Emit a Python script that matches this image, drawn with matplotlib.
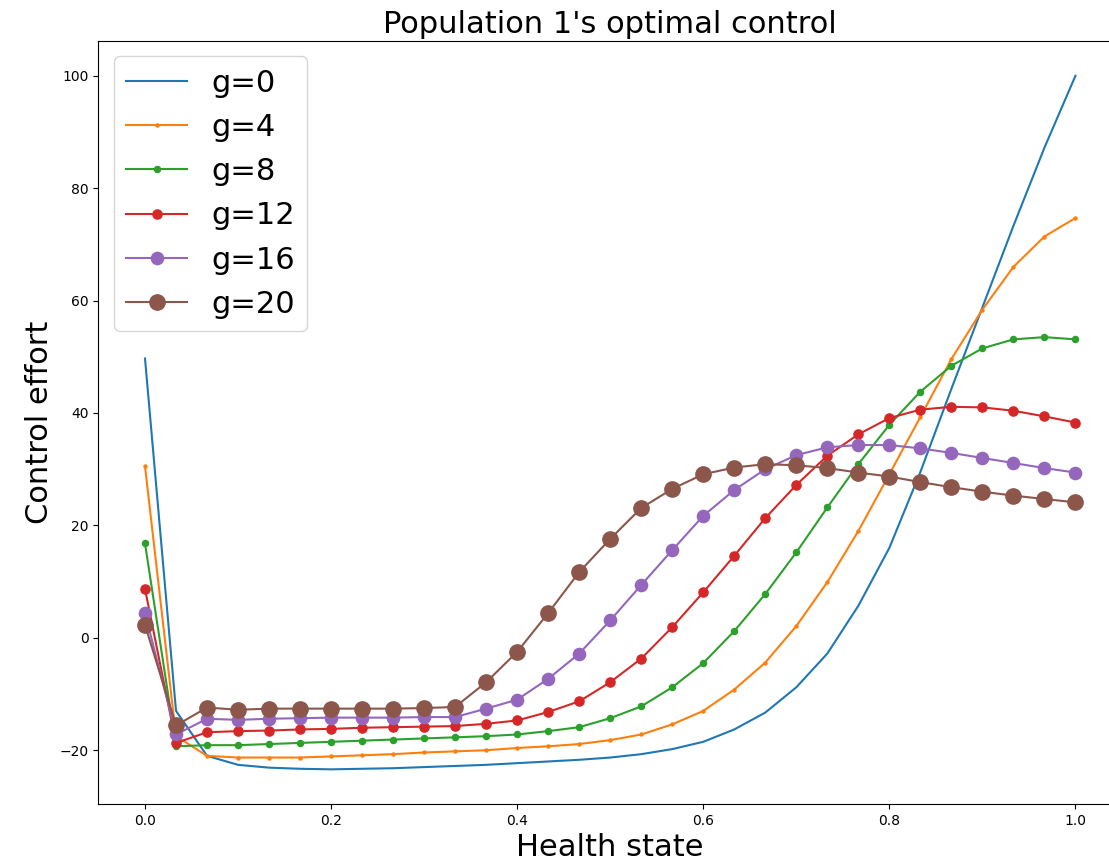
import numpy as np
import matplotlib
matplotlib.use("Agg")
import matplotlib.pyplot as plt

# Grid of health states (31 points between 0 and 1)
health = np.linspace(0, 1, 31)

u_g0 = [49.7, -13.0, -21.0, -22.6, -23.1, -23.3, -23.4, -23.3, -23.2, -23.0,
        -22.8, -22.6, -22.3, -22.0, -21.7, -21.3, -20.7, -19.8, -18.5, -16.3,
        -13.3, -8.8, -2.8, 5.7, 16.0, 29.5, 44.3, 58.8, 73.3, 87.2, 100.0]
u_g4 = [30.5, -17.5, -21.0, -21.3, -21.3, -21.3, -21.1, -20.9, -20.7, -20.4,
        -20.2, -20.0, -19.6, -19.3, -18.9, -18.2, -17.2, -15.4, -13.0, -9.2,
        -4.4, 2.1, 9.9, 19.0, 29.1, 39.3, 49.6, 58.4, 66.0, 71.4, 74.7]
u_g8 = [16.8, -19.3, -19.1, -19.1, -18.9, -18.7, -18.5, -18.3, -18.1, -17.9,
        -17.7, -17.5, -17.2, -16.6, -15.9, -14.3, -12.2, -8.8, -4.5, 1.2,
        7.8, 15.2, 23.2, 30.9, 37.9, 43.8, 48.4, 51.5, 53.1, 53.5, 53.1]
u_g12 = [8.7, -18.7, -16.8, -16.6, -16.5, -16.3, -16.2, -16.0, -15.9, -15.8,
         -15.7, -15.3, -14.7, -13.2, -11.3, -7.9, -3.7, 1.9, 8.1, 14.6,
         21.3, 27.2, 32.4, 36.2, 39.1, 40.6, 41.1, 41.0, 40.4, 39.4, 38.3]
u_g16 = [4.4, -17.2, -14.4, -14.6, -14.4, -14.3, -14.2, -14.2, -14.2, -14.1,
         -14.1, -12.6, -11.0, -7.3, -2.8, 3.1, 9.4, 15.6, 21.7, 26.3,
         30.0, 32.5, 33.9, 34.3, 34.3, 33.7, 32.9, 32.0, 31.1, 30.2, 29.4]
u_g20 = [2.3, -15.6, -12.4, -12.8, -12.6, -12.6, -12.6, -12.6, -12.6, -12.5,
         -12.3, -7.9, -2.5, 4.4, 11.7, 17.6, 23.1, 26.5, 29.1, 30.3,
         30.9, 30.7, 30.2, 29.4, 28.7, 27.7, 26.8, 26.0, 25.3, 24.7, 24.1]

g_values = [0, 4, 8, 12, 16, 20]
controls = [u_g0, u_g4, u_g8, u_g12, u_g16, u_g20]

fig = plt.figure(figsize=(11.09, 8.65), dpi=100)
ax = fig.add_axes([0.0888, 0.0705, 0.9229, 0.882])

for g, u in zip(g_values, controls):
    ax.plot(health, u, marker='o', markersize=g * 0.55, label='g=%d' % g)

ax.set_xlabel('Health state', fontsize=22)
ax.set_ylabel('Control effort', fontsize=22)
ax.set_title("Population 1's optimal control", fontsize=22)
ax.legend(loc='upper left', fontsize=22)

fig.savefig('out.png', dpi=100)
